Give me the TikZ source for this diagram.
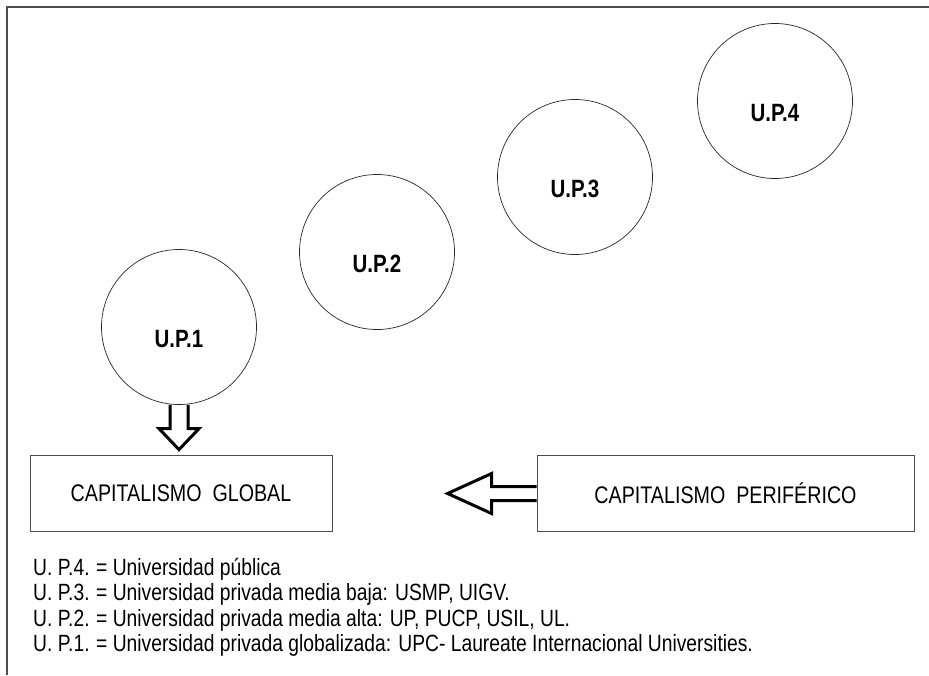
\documentclass[tikz,border=0pt]{standalone}
\usepackage{fontspec}
\setmainfont{Liberation Sans}[FakeStretch=0.82]
\usepackage{tikz}
\usetikzlibrary{
    positioning,
    calc,
}

\begin{document}
\begin{tikzpicture}[
        x=1pt, y=-1pt,
        upcirc/.style={
            circle, draw=black!85, line width=0.7pt,
            minimum size=155pt, inner sep=0pt,
            font=\fontsize{25}{28}\selectfont\bfseries,
            text height=40pt, text depth=0pt
        },
        capbox/.style={
            rectangle, draw=black!70, line width=0.8pt,
            minimum height=76pt, inner sep=0pt,
            font=\fontsize{24}{28}\selectfont
        },
        blockarrow/.style={draw=black, line width=3pt, miter limit=10},
        legline/.style={
            inner sep=0pt, text height=18pt, text depth=6pt,
            font=\fontsize{23.5}{26}\selectfont
        },
        frameline/.style={draw=black!70, line width=1.4pt},
    ]
    \useasboundingbox (0,0) rectangle (929,675);

    % ── Frame ──
    \draw[frameline] (929,7) -- (7,7) -- (7,675);

    % ── Universities ──
    \node[upcirc] (up1) at (179,327) {U.P.1};
    \node[upcirc] (up2) at (377,252) {U.P.2};
    \node[upcirc] (up3) at (575,177) {U.P.3};
    \node[upcirc] (up4) at (775,101) {U.P.4};

    % ── Capitalism boxes ──
    \node[capbox, minimum width=302pt] (capglobal) at (181,493) {CAPITALISMO\ \ GLOBAL};
    \node[capbox, minimum width=377pt] (capperif) at (725.5,493.5) {CAPITALISMO\ \ PERIFÉRICO};

    % ── Block arrows ──
    \coordinate (dnhead) at ($(up1.south |- capglobal.north)+(0,-26)$);
    \draw[blockarrow]
        ($(up1.south)+(-9,0)$) -- ($(dnhead)+(-9,0)$) -- ($(dnhead)+(-20,0)$)
        -- ($(dnhead)+(0,21)$)
        -- ($(dnhead)+(20,0)$) -- ($(dnhead)+(9,0)$) -- ($(up1.south)+(9,0)$);

    \coordinate (lfhead) at ($(capperif.west)+(-45,0)$);
    \draw[blockarrow]
        ($(capperif.west)+(0,-7)$) -- ($(lfhead)+(0,-7)$) -- ($(lfhead)+(0,-20)$)
        -- ($(lfhead)+(-44,0)$)
        -- ($(lfhead)+(0,20)$) -- ($(lfhead)+(0,7)$) -- ($(capperif.west)+(0,7)$);

    % ── Legend ──
    \node[legline, anchor=north west] (leg4) at (33,557)
        {\makebox[63pt][l]{U. P.4.}= Universidad pública};
    \node[legline, below=1pt of leg4.south west, anchor=north west] (leg3)
        {\makebox[63pt][l]{U. P.3.}= Universidad privada media baja: USMP, UIGV.};
    \node[legline, below=1pt of leg3.south west, anchor=north west] (leg2)
        {\makebox[63pt][l]{U. P.2.}= Universidad privada media alta: UP, PUCP, USIL, UL.};
    \node[legline, below=1pt of leg2.south west, anchor=north west] (leg1)
        {\makebox[63pt][l]{U. P.1.}= Universidad privada globalizada: UPC- Laureate Internacional Universities.};

    \end{tikzpicture}
\end{document}
